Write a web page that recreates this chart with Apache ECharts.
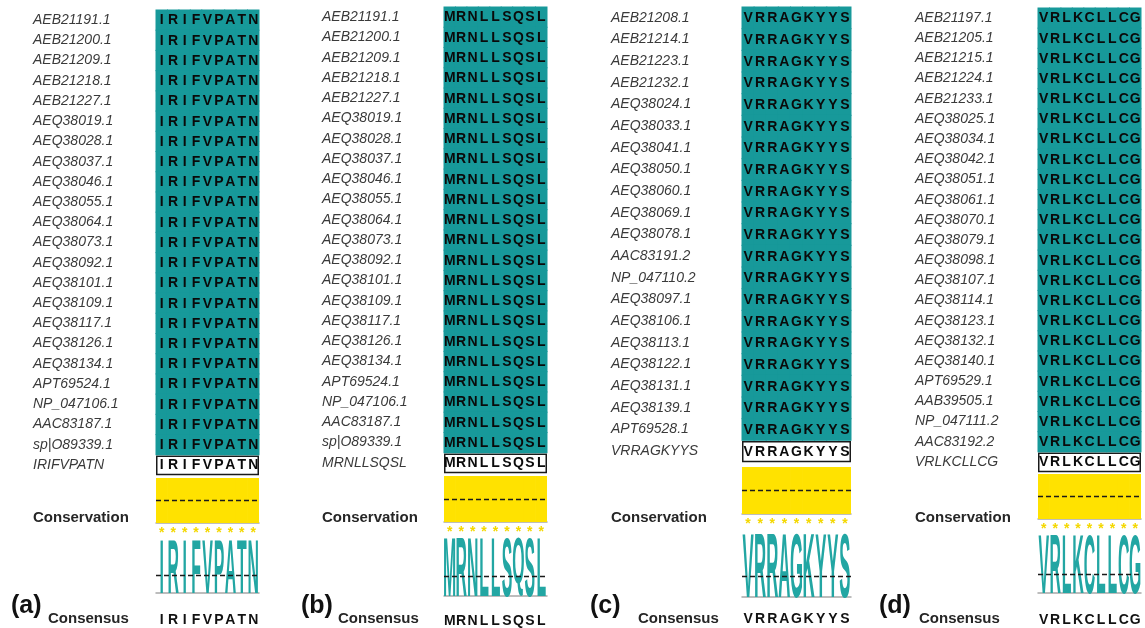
<!DOCTYPE html>
<html>
<head>
<meta charset="utf-8">
<script src="https://cdn.jsdelivr.net/npm/echarts@6/dist/echarts.min.js"></script>
<style>
  html, body { margin: 0; padding: 0; background: #fff; }
  #chart { width: 1145px; height: 628px; }
</style>
</head>
<body>
<div id="chart"></div>
<script>
// ---- Alignment data: four conserved epitope windows ----
const accessionsA = ['AEB21191.1', 'AEB21200.1', 'AEB21209.1', 'AEB21218.1', 'AEB21227.1',
  'AEQ38019.1', 'AEQ38028.1', 'AEQ38037.1', 'AEQ38046.1', 'AEQ38055.1', 'AEQ38064.1',
  'AEQ38073.1', 'AEQ38092.1', 'AEQ38101.1', 'AEQ38109.1', 'AEQ38117.1', 'AEQ38126.1',
  'AEQ38134.1', 'APT69524.1', 'NP_047106.1', 'AAC83187.1', 'sp|O89339.1'];
const accessionsB = ['AEB21191.1', 'AEB21200.1', 'AEB21209.1', 'AEB21218.1', 'AEB21227.1',
  'AEQ38019.1', 'AEQ38028.1', 'AEQ38037.1', 'AEQ38046.1', 'AEQ38055.1', 'AEQ38064.1',
  'AEQ38073.1', 'AEQ38092.1', 'AEQ38101.1', 'AEQ38109.1', 'AEQ38117.1', 'AEQ38126.1',
  'AEQ38134.1', 'APT69524.1', 'NP_047106.1', 'AAC83187.1', 'sp|O89339.1'];
const accessionsC = ['AEB21208.1', 'AEB21214.1', 'AEB21223.1', 'AEB21232.1', 'AEQ38024.1',
  'AEQ38033.1', 'AEQ38041.1', 'AEQ38050.1', 'AEQ38060.1', 'AEQ38069.1', 'AEQ38078.1',
  'AAC83191.2', 'NP_047110.2', 'AEQ38097.1', 'AEQ38106.1', 'AEQ38113.1', 'AEQ38122.1',
  'AEQ38131.1', 'AEQ38139.1', 'APT69528.1'];
const accessionsD = ['AEB21197.1', 'AEB21205.1', 'AEB21215.1', 'AEB21224.1', 'AEB21233.1',
  'AEQ38025.1', 'AEQ38034.1', 'AEQ38042.1', 'AEQ38051.1', 'AEQ38061.1', 'AEQ38070.1',
  'AEQ38079.1', 'AEQ38098.1', 'AEQ38107.1', 'AEQ38114.1', 'AEQ38123.1', 'AEQ38132.1',
  'AEQ38140.1', 'APT69529.1', 'AAB39505.1', 'NP_047111.2', 'AAC83192.2'];

// Peptide window shared by every sequence of each block
const motifA = 'IRIFVPATN';
const motifB = 'MRNLLSQSL';
const motifC = 'VRRAGKYYS';
const motifD = 'VRLKCLLCG';

// Consensus residues per column
const consensusA = ['I', 'R', 'I', 'F', 'V', 'P', 'A', 'T', 'N'];
const consensusB = ['M', 'R', 'N', 'L', 'L', 'S', 'Q', 'S', 'L'];
const consensusC = ['V', 'R', 'R', 'A', 'G', 'K', 'Y', 'Y', 'S'];
const consensusD = ['V', 'R', 'L', 'K', 'C', 'L', 'L', 'C', 'G'];

// Conservation score per column (0-11 scale, 11 = fully conserved '*')
const conservationA = [11, 11, 11, 11, 11, 11, 11, 11, 11];
const conservationB = [11, 11, 11, 11, 11, 11, 11, 11, 11];
const conservationC = [11, 11, 11, 11, 11, 11, 11, 11, 11];
const conservationD = [11, 11, 11, 11, 11, 11, 11, 11, 11];

// Consensus logo: residue frequency per column, percent
const logoA = [100, 100, 100, 100, 100, 100, 100, 100, 100];
const logoB = [100, 100, 100, 100, 100, 100, 100, 100, 100];
const logoC = [100, 100, 100, 100, 100, 100, 100, 100, 100];
const logoD = [100, 100, 100, 100, 100, 100, 100, 100, 100];

const panelTags = ['(a)', '(b)', '(c)', '(d)'];

// ---- Styling ----
const TEAL = '#17999a';
const LOGO_TEAL = '#22a6a3';
const YELLOW = '#ffe200';
const STAR = '#f4d800';
const AXIS_GREY = '#a8a8a8';

const probe = document.createElement('canvas').getContext('2d');
function textWidth(font, s) { probe.font = font; return probe.measureText(s).width; }
const narrowAvailable =
  textWidth('italic 40px "Liberation Sans Narrow", monospace', 'AEB21191.1') !==
  textWidth('italic 40px monospace', 'AEB21191.1');
const LABEL_FAMILY = narrowAvailable ? '"Liberation Sans Narrow", "Liberation Sans", sans-serif'
                                     : '"Liberation Sans", Arial, sans-serif';
const LABEL_SIZE = narrowAvailable ? 17 : 14;
const BASE_FAMILY = '"Liberation Sans", Arial, sans-serif';
const LOGO_FONT = narrowAvailable ? 'bold 20px "Liberation Sans Narrow", "Liberation Sans", sans-serif'
                                  : 'bold 20px "Liberation Sans", sans-serif';

// Panel placement (pixels)
const layout = [
  { labelX: 33,  left: 156,  width: 103, alignTop: 10, alignBottom: 475, consTop: 478, consBottom: 523, logoTop: 540, logoBase: 593, axisY: 609, tagX: 11,  consLabelX: 48 },
  { labelX: 322, left: 444,  width: 103, alignTop: 7,  alignBottom: 473, consTop: 476, consBottom: 522, logoTop: 537, logoBase: 596, axisY: 610, tagX: 301, consLabelX: 338 },
  { labelX: 611, left: 742,  width: 109, alignTop: 7,  alignBottom: 462, consTop: 467, consBottom: 514, logoTop: 533, logoBase: 597, axisY: 608, tagX: 590, consLabelX: 638 },
  { labelX: 915, left: 1038, width: 103, alignTop: 8,  alignBottom: 472, consTop: 474, consBottom: 519, logoTop: 535, logoBase: 593, axisY: 609, tagX: 879, consLabelX: 919 }
];

const panels = [
  { names: accessionsA, motif: motifA, consensus: consensusA, conservation: conservationA, logo: logoA, tag: panelTags[0] },
  { names: accessionsB, motif: motifB, consensus: consensusB, conservation: conservationB, logo: logoB, tag: panelTags[1] },
  { names: accessionsC, motif: motifC, consensus: consensusC, conservation: conservationC, logo: logoC, tag: panelTags[2] },
  { names: accessionsD, motif: motifD, consensus: consensusD, conservation: conservationD, logo: logoD, tag: panelTags[3] }
];

function glyphMetrics(ch, font) {
  probe.font = font;
  probe.textAlign = 'center';
  probe.textBaseline = 'middle';
  const m = probe.measureText(ch);
  return { a: m.actualBoundingBoxAscent, d: m.actualBoundingBoxDescent };
}
const logoRefWidth = textWidth(LOGO_FONT, 'N');

const grids = [], xAxes = [], yAxes = [], series = [], graphics = [];

panels.forEach(function (p, k) {
  const L = layout[k];
  const cols = p.motif.length;
  const positions = p.consensus.map(function (_, i) { return String(i + 1); });
  // every sequence in the block carries the same window
  const sequences = p.names.map(function () { return p.motif; });
  const consRow = sequences.length;

  // --- alignment block ---
  const gAlign = grids.length;
  grids.push({ left: L.left, width: L.width, top: L.alignTop, height: L.alignBottom - L.alignTop, containLabel: false, outerBoundsMode: 'none' });
  xAxes.push({ gridIndex: gAlign, type: 'category', data: positions, show: false });
  yAxes.push({
    gridIndex: gAlign, type: 'category', inverse: true,
    data: p.names.concat([p.motif]),
    axisLine: { show: false }, axisTick: { show: false }, splitLine: { show: false },
    axisLabel: {
      interval: 0, align: 'left', margin: L.left - L.labelX, fontStyle: 'italic',
      fontFamily: LABEL_FAMILY, fontSize: LABEL_SIZE, color: '#3a3a3a'
    }
  });

  const cellData = [], cellLetters = [];
  sequences.forEach(function (seq, r) {
    for (let c = 0; c < cols; c++) { cellData.push([c, r, 0]); cellLetters.push(seq[c]); }
  });
  for (let c = 0; c < cols; c++) { cellData.push([c, consRow, 1]); cellLetters.push(p.motif[c]); }

  // white framed consensus row
  series.push({
    type: 'custom', xAxisIndex: gAlign, yAxisIndex: gAlign, silent: true, z: 2,
    data: [[consRow]],
    renderItem: function (params, api) {
      const row = api.value(0);
      const first = api.coord([0, row]);
      const last = api.coord([cols - 1, row]);
      const s = api.size([1, 1]);
      const x0 = first[0] - s[0] / 2, x1 = last[0] + s[0] / 2;
      return {
        type: 'rect',
        shape: { x: x0 + 0.75, y: first[1] - s[1] / 2 + 1.5, width: x1 - x0 - 1.5, height: s[1] - 2 },
        style: { fill: '#fff', stroke: '#1a1a1a', lineWidth: 1.5 }
      };
    }
  });

  // residue cells
  series.push({
    type: 'custom', xAxisIndex: gAlign, yAxisIndex: gAlign, silent: true, z: 3,
    data: cellData,
    renderItem: function (params, api) {
      const c = api.coord([api.value(0), api.value(1)]);
      const s = api.size([1, 1]);
      const children = [];
      if (api.value(2) === 0) {
        children.push({
          type: 'rect',
          shape: { x: c[0] - s[0] / 2 - 0.5, y: c[1] - s[1] / 2 - 0.5, width: s[0] + 1, height: s[1] + 1 },
          style: { fill: TEAL }
        });
      }
      children.push({
        type: 'text',
        style: {
          text: cellLetters[params.dataIndex], x: c[0], y: c[1] + 0.5,
          align: 'center', verticalAlign: 'middle',
          font: 'bold 14px ' + BASE_FAMILY, fill: '#0a0a0a'
        }
      });
      return { type: 'group', children: children };
    }
  });

  // --- conservation histogram ---
  const gCons = grids.length;
  grids.push({ left: L.left, width: L.width, top: L.consTop, height: L.consBottom - L.consTop, containLabel: false, outerBoundsMode: 'none' });
  xAxes.push({
    gridIndex: gCons, type: 'category', data: positions,
    axisLine: { show: true, lineStyle: { color: AXIS_GREY, width: 1.5 } },
    axisTick: { show: false },
    axisLabel: {
      interval: 0,
      formatter: function (v, i) { return p.conservation[i] === 11 ? '*' : String(p.conservation[i]); },
      color: STAR, fontSize: 14, fontWeight: 'bold', fontFamily: BASE_FAMILY, margin: 3
    }
  });
  yAxes.push({ gridIndex: gCons, type: 'value', min: 0, max: 11, show: false });
  series.push({
    type: 'bar', xAxisIndex: gCons, yAxisIndex: gCons, silent: true,
    data: p.conservation, barWidth: '106%',
    itemStyle: { color: YELLOW },
    markLine: {
      silent: true, symbol: 'none', label: { show: false },
      lineStyle: { color: '#1a1a1a', type: [5, 3], width: 1.3 },
      data: [{ yAxis: 5.5 }]
    }
  });

  // --- consensus logo ---
  const gLogo = grids.length;
  grids.push({ left: L.left, width: L.width, top: L.logoTop, height: L.logoBase - L.logoTop, containLabel: false, outerBoundsMode: 'none' });
  xAxes.push({
    gridIndex: gLogo, type: 'category', data: positions,
    offset: L.axisY - L.logoBase,
    axisLine: { show: true, lineStyle: { color: AXIS_GREY, width: 1.5 } },
    axisTick: { show: false },
    axisLabel: {
      interval: 0,
      formatter: function (v, i) { return p.consensus[i]; },
      color: '#111', fontSize: 14, fontWeight: 'bold', fontFamily: BASE_FAMILY, margin: 4
    }
  });
  yAxes.push({ gridIndex: gLogo, type: 'value', min: 0, max: 100, show: false });
  series.push({
    type: 'custom', xAxisIndex: gLogo, yAxisIndex: gLogo, silent: true, z: 2,
    data: p.logo.map(function (v, i) { return [i, v]; }),
    renderItem: function (params, api) {
      const i = api.value(0);
      const base = api.coord([i, 0]);
      const top = api.coord([i, api.value(1)]);
      const w = api.size([1, 0])[0];
      const ch = p.consensus[i];
      const g = glyphMetrics(ch, LOGO_FONT);
      const sx = (w * 1.0) / logoRefWidth;
      const sy = (base[1] - top[1]) / (g.a + g.d);
      return {
        type: 'text', x: base[0], y: base[1] - g.d * sy, scaleX: sx, scaleY: sy,
        style: { text: ch, x: 0, y: 0, align: 'center', verticalAlign: 'middle', font: LOGO_FONT, fill: LOGO_TEAL }
      };
    }
  });
  series.push({
    type: 'line', xAxisIndex: gLogo, yAxisIndex: gLogo, silent: true, z: 6, data: [],
    markLine: {
      silent: true, symbol: 'none', label: { show: false },
      lineStyle: { color: '#1a1a1a', type: [5, 3], width: 1.3 },
      data: [{ yAxis: 33 }]
    }
  });

  // --- panel captions ---
  graphics.push({
    type: 'text', x: L.labelX, y: 518,
    style: { text: 'Conservation', font: 'bold 15px ' + BASE_FAMILY, fill: '#262626', verticalAlign: 'middle' }
  });
  graphics.push({
    type: 'text', x: L.tagX, y: 606,
    style: { text: p.tag, font: 'bold 25px ' + BASE_FAMILY, fill: '#111', verticalAlign: 'middle' }
  });
  graphics.push({
    type: 'text', x: L.consLabelX, y: 619,
    style: { text: 'Consensus', font: 'bold 15px ' + BASE_FAMILY, fill: '#262626', verticalAlign: 'middle' }
  });
});

const chart = echarts.init(document.getElementById('chart'), null, { renderer: 'canvas' });
chart.setOption({
  backgroundColor: '#fff',
  animation: false,
  grid: grids,
  xAxis: xAxes,
  yAxis: yAxes,
  series: series,
  graphic: graphics
});
</script>
</body>
</html>
